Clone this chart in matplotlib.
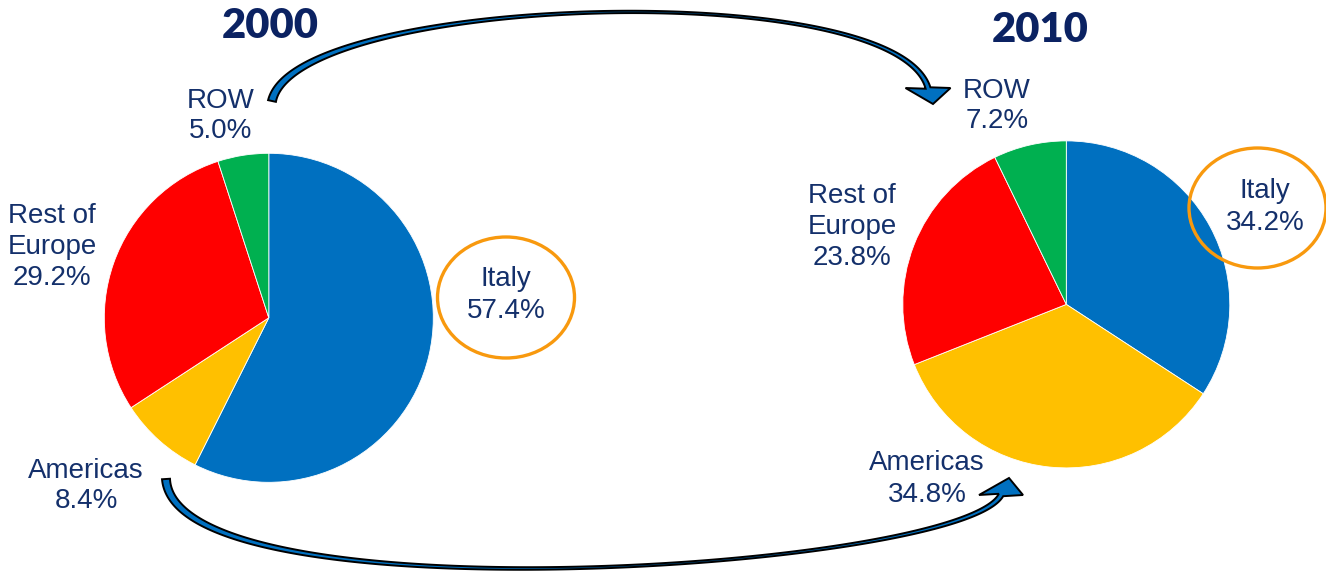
import numpy as np
import matplotlib
matplotlib.use("Agg")
import matplotlib.pyplot as plt
from matplotlib.patches import Ellipse, Polygon

# ---- data -------------------------------------------------------------
regions = ["Italy", "Americas", "Rest of\nEurope", "ROW"]
share_2000 = [57.4, 8.4, 29.2, 5.0]
share_2010 = [34.2, 34.8, 23.8, 7.2]
years = ["2000", "2010"]

# ---- style ------------------------------------------------------------
W, H = 1326, 572
slice_colors = ["#0070C0", "#FFC000", "#FF0000", "#00B050"]
label_color = "#14306B"
title_color = "#0B2262"
ring_color = "#F8990E"
arrow_fill = "#0070C0"
label_font = ["Liberation Sans", "DejaVu Sans"]
title_font = ["Lato", "DejaVu Sans"]


def fy(y):
    """Convert a top-down pixel row into the axes' bottom-up coordinate."""
    return H - y


fig = plt.figure(figsize=(W / 100, H / 100), dpi=100)
ax = fig.add_axes([0, 0, 1, 1])

# pie geometry (pixel units, y measured from top)
pie_centers = [(268.8, 317.8), (1066.3, 304.4)]
pie_radii = [164.5, 163.5]

for vals, (cx, cy), r in zip([share_2000, share_2010], pie_centers, pie_radii):
    ax.pie(vals, colors=slice_colors, startangle=90, counterclock=False,
           center=(cx, fy(cy)), radius=r,
           wedgeprops=dict(edgecolor="white", linewidth=0.6))

# slice labels (block centres in pixel units)
label_pos_2000 = [(506, 295), (86, 486), (52, 247), (221, 116)]
label_pos_2010 = [(1265, 207), (927, 479), (852, 227), (997, 106)]

for vals, positions in [(share_2000, label_pos_2000), (share_2010, label_pos_2010)]:
    for name, v, (x, y) in zip(regions, vals, positions):
        ax.text(x, fy(y), f"{name}\n{v:.1f}%", ha="center", va="center",
                fontsize=20, color=label_color, family=label_font,
                linespacing=1.25)

# year titles
for yr, (x, y) in zip(years, [(270, 38.3), (1040, 41.7)]):
    ax.text(x, fy(y), yr, ha="center", va="baseline", fontsize=30,
            fontweight="heavy", color=title_color, family=title_font)

# orange rings around the Italy labels
for (x, y), (w, h) in zip([(506, 297.5), (1257.5, 208)], [(137, 121), (137, 120)]):
    ax.add_patch(Ellipse((x, fy(y)), w, h, fill=False, edgecolor=ring_color,
                         linewidth=2.4, zorder=3))


def bezier(p, t):
    p0, p1, p2, p3 = [np.asarray(q, float) for q in p]
    t = t[:, None]
    pts = ((1 - t) ** 3) * p0 + 3 * ((1 - t) ** 2) * t * p1 \
        + 3 * (1 - t) * t ** 2 * p2 + t ** 3 * p3
    der = 3 * ((1 - t) ** 2) * (p1 - p0) + 6 * (1 - t) * t * (p2 - p1) \
        + 3 * t ** 2 * (p3 - p2)
    return pts, der


def curved_arrow(ctrl, w_tail, w_mid, w_end, head_half, tip):
    """Tapered curved band ending in a flat-based arrow head (pixel coords)."""
    t = np.linspace(0, 1, 200)
    pts, der = bezier(ctrl, t)
    tang = der / np.linalg.norm(der, axis=1)[:, None]
    norm = np.column_stack([-tang[:, 1], tang[:, 0]])
    half = (w_mid + (w_tail - w_mid) * (1 - t) ** 3 + (w_end - w_mid) * t ** 4) / 2
    side_a = pts + norm * half[:, None]
    side_b = pts - norm * half[:, None]
    end = pts[-1]
    base_l = end + np.array([-head_half, 0.0])
    base_r = end + np.array([head_half, 0.0])
    tip_pt = end + np.asarray(tip, float)
    # order the head base so that it joins the matching band side
    if np.dot(base_l - end, norm[-1]) > 0:
        head = [base_l, tip_pt, base_r]
    else:
        head = [base_r, tip_pt, base_l]
    outline = np.vstack([side_a, head, side_b[::-1]])
    outline[:, 1] = H - outline[:, 1]
    ax.add_patch(Polygon(outline, closed=True, facecolor=arrow_fill,
                         edgecolor="black", linewidth=1.4, joinstyle="miter",
                         zorder=4))


# arrow over the top: ROW 2000 -> ROW 2010
curved_arrow([(272, 101), (295, -5), (895, -25), (928, 88)],
             w_tail=8.0, w_mid=1.4, w_end=5.0, head_half=22.5, tip=(5, 16))
# arrow along the bottom: Americas 2000 -> Americas 2010
curved_arrow([(166, 479), (175, 620), (960, 570), (1001, 495)],
             w_tail=8.0, w_mid=1.4, w_end=5.0, head_half=22, tip=(8, -17))

ax.set_xlim(0, W)
ax.set_ylim(0, H)
ax.set_aspect("equal")
ax.axis("off")

fig.savefig("out.png", dpi=100, facecolor="white")
